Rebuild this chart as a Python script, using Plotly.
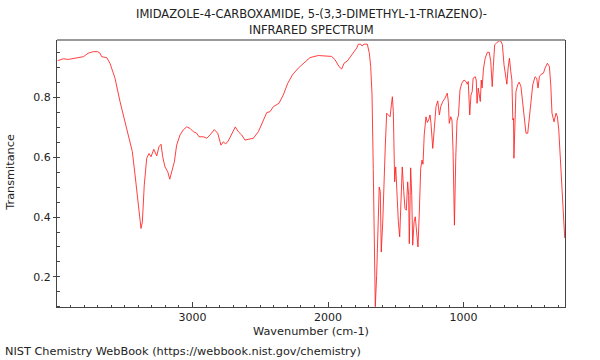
import plotly.graph_objects as go

wavenumber = [3995, 3953, 3917, 3867, 3806, 3769, 3732, 3700, 3683, 3670, 3633, 3609, 3572, 3535, 3498,
              3469, 3444, 3424, 3404, 3387, 3380, 3370, 3356, 3338, 3321, 3306, 3286, 3264, 3247, 3232,
              3220, 3203, 3183, 3168, 3154, 3134, 3117, 3092, 3068, 3043, 3018, 2994, 2969, 2952, 2920,
              2895, 2871, 2839, 2814, 2799, 2790, 2773, 2755, 2736, 2711, 2684, 2662, 2637, 2613, 2588,
              2551, 2514, 2485, 2452, 2428, 2403, 2362, 2330, 2297, 2263, 2219, 2182, 2133, 2072, 2022,
              1973, 1948, 1919, 1899, 1882, 1857, 1833, 1808, 1788, 1776, 1759, 1749, 1734, 1710, 1695,
              1685, 1675, 1666, 1658, 1651, 1641, 1631, 1622, 1614, 1607, 1596, 1587, 1577, 1567, 1557,
              1542, 1532, 1525, 1518, 1508, 1500, 1493, 1481, 1471, 1461, 1452, 1441, 1432, 1422, 1412,
              1405, 1400, 1390, 1382, 1375, 1365, 1356, 1346, 1336, 1326, 1316, 1306, 1299, 1290, 1277,
              1267, 1257, 1247, 1240, 1227, 1215, 1203, 1190, 1178, 1168, 1153, 1137, 1120, 1112, 1105,
              1094, 1085, 1077, 1067, 1057, 1048, 1037, 1026, 1013, 996, 982, 972, 965, 954, 945,
              936, 929, 913, 906, 900, 891, 883, 876, 869, 863, 852, 840, 824, 810, 799,
              788, 780, 770, 755, 740, 725, 713, 701, 690, 680, 671, 661, 651, 643, 636,
              631, 628, 620, 613, 600, 589, 576, 564, 552, 539, 526, 514, 502, 489, 472,
              460, 450, 440, 428, 410, 398, 381, 366, 356, 347, 332, 317, 307, 297, 283,
              268, 253]

transmittance = [0.924, 0.930, 0.928, 0.932, 0.937, 0.949, 0.954, 0.954, 0.949, 0.937, 0.934, 0.915, 0.865, 0.787, 0.719,
                 0.664, 0.619, 0.541, 0.451, 0.373, 0.362, 0.384, 0.507, 0.597, 0.613, 0.602, 0.627, 0.605, 0.636, 0.644,
                 0.602, 0.568, 0.552, 0.527, 0.552, 0.585, 0.641, 0.675, 0.692, 0.702, 0.697, 0.686, 0.681, 0.669, 0.669,
                 0.664, 0.675, 0.693, 0.681, 0.658, 0.641, 0.652, 0.645, 0.655, 0.677, 0.702, 0.686, 0.675, 0.658, 0.661,
                 0.664, 0.686, 0.717, 0.750, 0.753, 0.770, 0.781, 0.809, 0.848, 0.876, 0.899, 0.915, 0.934, 0.941, 0.939,
                 0.938, 0.927, 0.904, 0.896, 0.915, 0.923, 0.938, 0.957, 0.966, 0.979, 0.979, 0.973, 0.979, 0.979, 0.949,
                 0.904, 0.809, 0.563, 0.283, 0.100, 0.205, 0.362, 0.501, 0.485, 0.283, 0.384, 0.541, 0.641, 0.748, 0.742,
                 0.736, 0.776, 0.803, 0.753, 0.518, 0.568, 0.473, 0.384, 0.334, 0.462, 0.568, 0.485, 0.429, 0.423, 0.518,
                 0.473, 0.311, 0.565, 0.473, 0.306, 0.384, 0.401, 0.339, 0.300, 0.417, 0.563, 0.591, 0.577, 0.675, 0.736,
                 0.717, 0.725, 0.742, 0.714, 0.630, 0.708, 0.770, 0.789, 0.742, 0.770, 0.787, 0.798, 0.815, 0.787, 0.714,
                 0.736, 0.725, 0.620, 0.373, 0.600, 0.722, 0.742, 0.826, 0.848, 0.859, 0.854, 0.845, 0.854, 0.742, 0.809,
                 0.820, 0.865, 0.870, 0.859, 0.781, 0.832, 0.803, 0.787, 0.859, 0.832, 0.899, 0.932, 0.952, 0.952, 0.921,
                 0.837, 0.904, 0.977, 0.983, 0.990, 0.990, 0.977, 0.910, 0.865, 0.845, 0.899, 0.932, 0.887, 0.859, 0.725,
                 0.731, 0.597, 0.731, 0.820, 0.843, 0.852, 0.837, 0.787, 0.719, 0.681, 0.681, 0.731, 0.798, 0.843, 0.870,
                 0.865, 0.832, 0.870, 0.878, 0.882, 0.899, 0.915, 0.904, 0.843, 0.748, 0.719, 0.748, 0.736, 0.692, 0.568,
                 0.479, 0.330]

x_ticks = [3000, 2000, 1000]
x_tick_labels = ["3000", "2000", "1000"]
y_ticks = [0.2, 0.4, 0.6, 0.8]
y_tick_labels = ["0.2", "0.4", "0.6", "0.8"]

title_lines = ["IMIDAZOLE-4-CARBOXAMIDE, 5-(3,3-DIMETHYL-1-TRIAZENO)-", "INFRARED SPECTRUM"]
x_title = "Wavenumber (cm-1)"
y_title = "Transmitance"
footer = "NIST Chemistry WebBook (https://webbook.nist.gov/chemistry)"

FONT = "DejaVu Sans"
W, H = 600, 360
L, R, T, B = 57, 35, 40, 52.5
pw, ph = W - L - R, H - T - B

def px_x(x):
    return (x - L) / pw

def px_y(y):
    return (H - B - y) / ph

fig = go.Figure()
fig.add_trace(go.Scatter(x=wavenumber, y=transmittance, mode="lines",
                         line=dict(color="rgba(255,30,30,0.85)", width=1),
                         hoverinfo="skip", showlegend=False))

fig.update_layout(
    width=W, height=H,
    margin=dict(l=L, r=R, t=T, b=B, pad=0),
    paper_bgcolor="white", plot_bgcolor="white",
    font=dict(family=FONT, size=11, color="#222"),
    showlegend=False,
)
fig.update_xaxes(
    range=[4000, 251], showgrid=False, zeroline=False,
    showline=True, linecolor="#444", linewidth=1, mirror=False,
    tickmode="array", tickvals=x_ticks, ticktext=x_tick_labels,
    ticks="inside", ticklen=5, tickcolor="#444", tickwidth=1,
    tickfont=dict(family=FONT, size=11, color="#222"),
    minor=dict(dtick=100, tick0=0, ticks="inside", ticklen=2.5, tickcolor="#444", tickwidth=1),
)
fig.update_yaxes(
    range=[0.099, 0.993], showgrid=False, zeroline=False,
    showline=True, linecolor="#444", linewidth=1, mirror=True,
    tickmode="array", tickvals=y_ticks, ticktext=y_tick_labels,
    ticks="outside", ticklen=3, tickcolor="#444", tickwidth=1,
    tickfont=dict(family=FONT, size=11, color="#222"),
    minor=dict(dtick=0.05, tick0=0, ticks="inside", ticklen=3, tickcolor="#444", tickwidth=1),
)

fig.add_shape(type="line", xref="paper", yref="paper", x0=0, x1=1, y0=1, y1=1,
              line=dict(color="#999", width=2))

annotations = [
    dict(text=title_lines[0], x=0.5, y=px_y(14), xanchor="center", yanchor="middle", size=11.5),
    dict(text=title_lines[1], x=0.5, y=px_y(30), xanchor="center", yanchor="middle", size=11.5),
    dict(text=x_title, x=0.5, y=px_y(332), xanchor="center", yanchor="middle", size=11.3),
    dict(text=y_title, x=px_x(11), y=px_y(173), xanchor="center", yanchor="middle", textangle=-90, size=11.3),
    dict(text=footer, x=px_x(3), y=px_y(352), xanchor="left", yanchor="middle", size=11.3),
]
for a in annotations:
    size = a.pop("size")
    fig.add_annotation(xref="paper", yref="paper", showarrow=False,
                       font=dict(family=FONT, size=size, color="#222"), **a)

fig.write_html("out.html", config={"displayModeBar": False},
               post_script="document.body.style.margin='0';document.body.style.padding='0';"
                           "document.body.style.overflow='hidden';")
